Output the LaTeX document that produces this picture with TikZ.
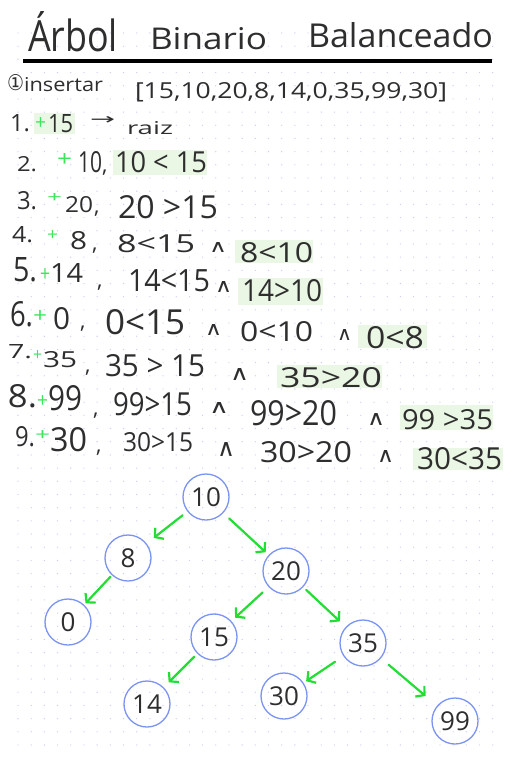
\documentclass[tikz,border=0pt]{standalone}
\usepackage{fontspec}
\setmainfont{Open Sans}
\newfontfamily\symf{DejaVu Sans}
\usetikzlibrary{arrows.meta}
\definecolor{ink}{HTML}{2E2E2E}
\definecolor{plus}{HTML}{3CE65A}
\definecolor{hl}{HTML}{EBF7E5}
\definecolor{dotc}{HTML}{C9CCF0}
\definecolor{nodeblue}{HTML}{7B93F2}
\definecolor{arrowg}{HTML}{22DD33}
\newcommand{\fitseg}[6]{\node[txt,#1] (#2) at (#3) {\resizebox{#4pt}{#5pt}{#6}};}
\newcommand{\cma}[2]{\node[txt,anchor=base west,font=\fontsize{22}{22}\selectfont] (#1) at (#2) {,};}
\tikzset{
  txt/.style={anchor=west, inner sep=0pt, outer sep=0pt, text=ink},
  pl/.style={text=plus},
  hlbox/.style={fill=hl, draw=none},
  bnode/.style={circle, draw=nodeblue, line width=1.3pt, minimum size=46pt, inner sep=0pt, text=ink, font=\fontsize{26}{26}\selectfont},
  garrow/.style={draw=arrowg, line width=2.2pt, line cap=round, -{Straight Barb[length=6pt,width=14pt]}},
}
\begin{document}
\begin{tikzpicture}[x=1pt,y=-1pt]
\fill[white] (0,0) rectangle (523,770);
\useasboundingbox (0,0) rectangle (523,770);
% dot grid
\foreach \i in {0,...,36}{
  \foreach \j in {0,...,54}{
    \fill[dotc] (18+\i*13.185, 33+\j*13.185) circle (0.65);
  }
}
% highlights
\fill[hlbox] (34,113) rectangle (75,134);
\fill[hlbox] (113,150) rectangle (207,175);
\fill[hlbox] (235,240) rectangle (313,263);
\fill[hlbox] (238,278) rectangle (323,305);
\fill[hlbox] (358,325) rectangle (427,348);
\fill[hlbox] (277,365) rectangle (382,388);
\fill[hlbox] (400,405) rectangle (493,430);
\fill[hlbox] (413,448) rectangle (503,470);
% title
\fitseg{}{tA}{28,32}{90}{40}{Árbol}
\fitseg{}{tB}{150,39}{117}{22}{Binario}
\fitseg{}{tC}{308,35.5}{185}{25}{Balanceado}
\coordinate (ulA) at (23,61);
\coordinate (ulB) at (492,61);
\draw[line width=4pt, black] (ulA) -- (ulB);
% header
\fitseg{font=\symf}{h0}{7,83}{17}{16}{①}
\fitseg{}{h1}{24,85}{79}{14}{insertar}
\fitseg{}{h2}{135,92.5}{312}{16}{[15,10,20,8,14,0,35,99,30]}
% line 1
\fitseg{}{a1}{10,123.5}{20}{17}{1.}
\fitseg{pl}{p1}{35,124}{11}{12}{+}
\fitseg{}{b1}{48,124}{25}{18}{15}
\fitseg{font=\symf}{r1}{90,121}{25}{8}{→}
\fitseg{}{c1}{127,128.5}{46}{13}{raiz}
% line 2
\fitseg{}{a2}{17,164.5}{20}{15}{2.}
\fitseg{pl}{p2}{57,160}{15}{13}{+}
\fitseg{}{b2}{78,162}{24}{21}{10}
\cma{k2}{102,172}
\fitseg{}{d2}{115,162.5}{92}{21}{10 < 15}
% line 3
\fitseg{}{a3}{17,201}{20}{18}{3.}
\fitseg{pl}{p3}{47,197.5}{15}{9}{+}
\fitseg{}{b3}{65,205}{28}{16}{20}
\cma{k3}{94,213}
\fitseg{}{d3}{118,207}{100}{23}{20 >15}
% line 4
\fitseg{}{a4}{12,235}{21}{16}{4.}
\fitseg{pl}{p4}{47,235}{11}{10}{+}
\fitseg{}{b4}{70,241}{17}{18}{8}
\cma{k4}{92,250}
\fitseg{}{d4}{117,244}{78}{18}{8<15}
\fitseg{font=\symf}{e4}{209,247.5}{18}{10}{∧}
\fitseg{}{f4}{240,253}{73}{20}{8<10}
% line 5
\fitseg{}{a5}{13,270}{24}{24}{5.}
\fitseg{pl}{p5}{40,274.5}{10}{13}{+}
\fitseg{}{b5}{50,272.5}{33}{19}{14}
\cma{k5}{97,287}
\fitseg{}{d5}{128,281}{82}{22}{14<15}
\fitseg{font=\symf}{e5}{215,287}{17}{11}{∧}
\fitseg{}{f5}{242,291}{80}{22}{14>10}
% line 6
\fitseg{}{a6}{10,314.5}{23}{25}{6.}
\fitseg{pl}{p6}{33,316}{14}{12}{+}
\fitseg{}{b6}{53,319}{17}{22}{0}
\cma{k6}{80,328}
\fitseg{}{d6}{105,322.5}{80}{25}{0<15}
\fitseg{font=\symf}{e6}{205,330}{17}{11}{∧}
\fitseg{}{f6}{240,332}{73}{20}{0<10}
\fitseg{font=\symf}{g6}{337,335}{15}{11}{∧}
\fitseg{}{h6}{366,338}{58}{22}{0<8}
% line 7
\fitseg{}{a7}{8,351.5}{24}{14}{7.}
\fitseg{pl}{p7}{33,355}{9}{10}{+}
\fitseg{}{b7}{43,360}{34}{16}{35}
\cma{k7}{85,372}
\fitseg{}{d7}{105,366}{100}{22}{35 > 15}
\fitseg{font=\symf}{e7}{230,374}{19}{12}{∧}
\fitseg{}{f7}{280,378}{102}{20}{35>20}
% line 8
\fitseg{}{a8}{8,396.5}{29}{23}{8.}
\fitseg{pl}{p8}{37,401}{11}{12}{+}
\fitseg{}{b8}{48,398.5}{34}{25}{99}
\cma{k8}{93,415}
\fitseg{}{d8}{113,404.5}{79}{23}{99>15}
\fitseg{font=\symf}{e8}{209,408}{20}{11}{∧}
\fitseg{}{f8}{250,413.5}{87}{25}{99>20}
\fitseg{font=\symf}{g8}{367,419}{18}{12}{∧}
\fitseg{}{h8}{402,420}{91}{20}{99 >35}
% line 9
\fitseg{}{a9}{15,437}{20}{20}{9.}
\fitseg{pl}{p9}{35,435}{15}{10}{+}
\fitseg{}{b9}{50,440}{37}{24}{30}
\cma{k9}{96,452}
\fitseg{}{d9}{123,442.5}{70}{19}{30>15}
\fitseg{font=\symf}{e9}{217,449.5}{18}{14}{∧}
\fitseg{}{f9}{260,452.5}{92}{21}{30>20}
\fitseg{font=\symf}{g9}{377,456}{17}{12}{∧}
\fitseg{}{h9}{417,459}{85}{22}{30<35}
% tree
\node[bnode] (t10) at (206,497) {10};
\node[bnode] (t8)  at (128,558) {8};
\node[bnode] (t20) at (286,571) {20};
\node[bnode] (t0)  at (68,622)  {0};
\node[bnode] (t15) at (214,637) {15};
\node[bnode] (t35) at (363,643) {35};
\node[bnode] (t14) at (147,704) {14};
\node[bnode] (t30) at (284,696) {30};
\node[bnode] (t99) at (455,721) {99};
\draw[garrow, shorten <=6pt, shorten >=9pt] (t10) -- (t8);
\draw[garrow, shorten <=8pt, shorten >=4pt] (t10) -- (t20);
\draw[garrow, shorten <=2pt, shorten >=2pt] (t8) -- (t0);
\draw[garrow, shorten <=8pt, shorten >=5pt] (t20) -- (t15);
\draw[garrow, shorten <=4pt, shorten >=8pt] (t20) -- (t35);
\draw[garrow, shorten <=4pt, shorten >=7pt] (t15) -- (t14);
\draw[garrow, shorten <=10pt, shorten >=3pt] (t35) -- (t30);
\draw[garrow, shorten <=10pt, shorten >=15pt] (t35) -- (t99);
\end{tikzpicture}
\end{document}
